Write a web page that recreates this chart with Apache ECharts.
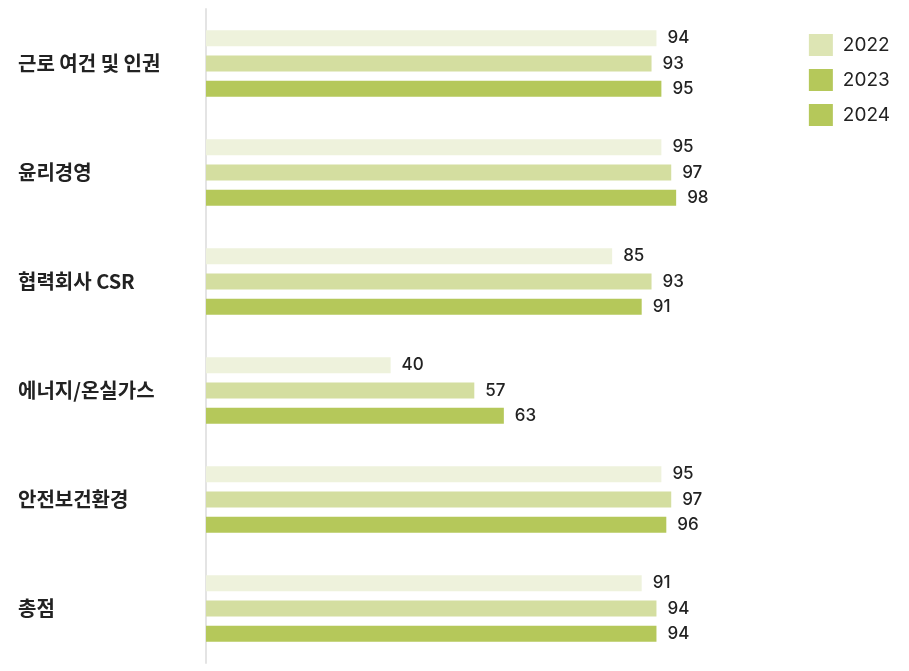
<!DOCTYPE html>
<html>
<head>
<meta charset="utf-8">
<script src="https://cdn.jsdelivr.net/npm/echarts@6/dist/echarts.min.js"></script>
<style>
  html, body { margin: 0; padding: 0; background: #fff; }
  #main { width: 909px; height: 671px; }
</style>
</head>
<body>
<div id="main"></div>
<script>
const categories = ['근로 여건 및 인권', '윤리경영', '협력회사 CSR', '에너지/온실가스', '안전보건환경', '총점']
const years = ['2022', '2023', '2024']
const v2022 = [94, 95, 85, 40, 95, 91]
const v2023 = [93, 97, 93, 57, 97, 94]
const v2024 = [95, 98, 91, 63, 96, 94]

const barColors = ['#eef2dc', '#d4dea0', '#b5c85a']
const legendColors = ['#dde5b4', '#b5c85a', '#b5c85a']
const font = 'Inter, "Noto Sans CJK KR", sans-serif'

let myChart = echarts.init(document.getElementById('main')) //초기화
const values = [v2022, v2023, v2024]

myChart.setOption({
  animation: false,
  legend: {
    orient: 'vertical',
    right: 14,
    top: 29,
    icon: 'rect',
    itemWidth: 24,
    itemHeight: 22,
    itemGap: 13,
    textStyle: { fontSize: 19, color: '#222', fontFamily: font, padding: [0, 0, 0, 5] },
    data: years.map((y, i) => ({ name: y, itemStyle: { color: legendColors[i] } }))
  },
  grid: { left: 206, right: 223, top: 9, bottom: 8, containLabel: false },
  xAxis: {
    type: 'value',
    min: 2.5,
    max: 100,
    show: false
  },
  yAxis: {
    type: 'category',
    inverse: true,
    data: categories,
    axisLine: { show: true, lineStyle: { color: '#e4e4e4', width: 2 } },
    axisTick: { show: false },
    axisLabel: {
      align: 'left',
      margin: 188,
      fontSize: 20,
      fontWeight: 'bold',
      color: '#222',
      fontFamily: '"Noto Sans CJK KR", sans-serif'
    }
  },
  series: years.map((y, i) => ({
    name: y,
    type: 'bar',
    data: values[i],
    barWidth: 16,
    barGap: '58%',
    itemStyle: { color: barColors[i] },
    label: {
      show: true,
      position: 'right',
      distance: 11,
      fontSize: 17,
      fontWeight: 500,
      color: '#222',
      fontFamily: font
    }
  }))
})
</script>
</body>
</html>
